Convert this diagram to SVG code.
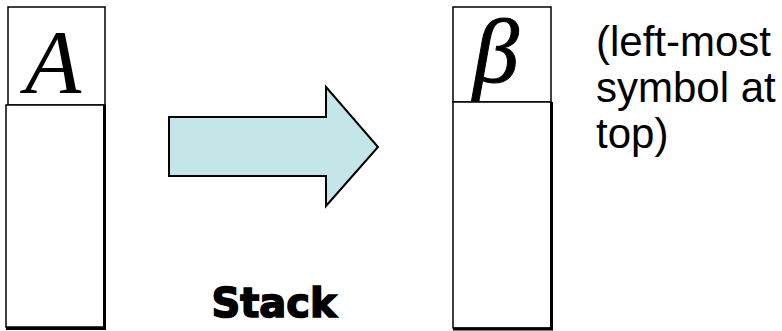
<svg xmlns="http://www.w3.org/2000/svg" width="782" height="331" viewBox="0 0 782 331">
<style>
.box{fill:#fff;stroke:#000;stroke-width:1.5}
.edge{stroke:#000;stroke-width:3;fill:none}
.sym{font-family:"Liberation Serif",serif;font-style:italic;font-size:92px;fill:#000}
.note{font-family:"Liberation Sans",Arial,sans-serif;font-size:42px;fill:#000}
.lbl{font-family:"DejaVu Sans",sans-serif;font-weight:bold;font-size:40px;fill:#000;stroke:#000;stroke-width:1.6}
</style>
<g id="stack-left">
<rect class="box" x="8" y="7" width="97" height="98"/>
<text class="sym" x="53" y="93" text-anchor="middle">A</text>
<rect class="box" x="6" y="105" width="98" height="222"/>
<path class="edge" d="M104.5 105V328.5H6"/>
</g>
<g id="connectors">
<polygon points="169,117 326,117 326,87 378,147 326,206 326,176 169,176" fill="#C5E6E8" stroke="#000" stroke-width="2"/>
<text class="lbl" x="274" y="317" text-anchor="middle">Stack</text>
</g>
<g id="stack-right">
<rect class="box" x="453" y="7" width="98" height="95"/>
<text class="sym" x="496" y="82" text-anchor="middle" stroke="#000" stroke-width="1">β</text>
<rect class="box" x="453" y="102" width="98" height="226"/>
<path class="edge" d="M551.5 102V329H453"/>
</g>
<g id="note">
<text class="note" x="596" y="56">(left-most</text>
<text class="note" x="596" y="102">symbol at</text>
<text class="note" x="596" y="148">top)</text>
</g>
</svg>
